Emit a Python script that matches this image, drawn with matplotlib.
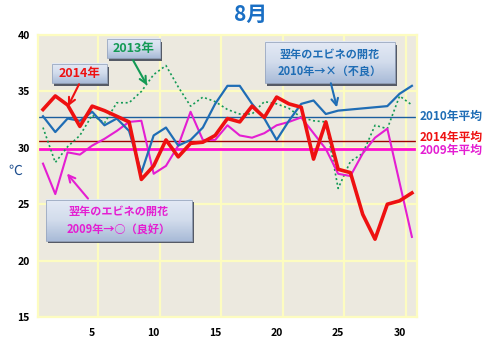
import numpy as np
import matplotlib.pyplot as plt
from matplotlib.patches import Rectangle
from matplotlib.colors import LinearSegmentedColormap

plt.rcParams['font.family'] = ['Noto Sans CJK JP', 'DejaVu Sans']

# 8月の日別最高気温
days = np.arange(1, 32)
t2014 = [33.4, 34.6, 33.8, 31.9, 33.7, 33.3, 32.8, 32.3, 27.2, 28.4, 30.7, 29.2, 30.4, 30.5, 31.1, 32.6,
         32.3, 33.7, 32.7, 34.5, 33.9, 33.6, 29.0, 32.3, 28.1, 27.8, 24.1, 21.9, 25.0, 25.3, 26.0]
t2013 = [31.8, 28.7, 30.1, 31.1, 32.9, 32.2, 34.0, 34.0, 35.0, 36.5, 37.3, 35.4, 33.7, 34.5, 34.1, 33.4,
         33.0, 33.0, 34.1, 33.9, 33.5, 32.7, 32.4, 32.3, 26.4, 28.8, 29.5, 32.0, 31.7, 34.6, 33.8]
t2010 = [32.8, 31.4, 32.6, 32.4, 33.2, 32.0, 32.6, 31.5, 27.8, 31.1, 31.8, 30.2, 30.7, 31.8, 33.9, 35.5,
         35.5, 33.9, 32.6, 30.7, 32.4, 33.9, 34.2, 33.0, 33.3, 33.4, 33.5, 33.6, 33.7, 34.8, 35.5]
t2009 = [28.6, 25.9, 29.6, 29.4, 30.2, 30.8, 31.5, 32.3, 32.4, 27.7, 28.4, 30.2, 33.2, 30.7, 30.7, 32.0,
         31.1, 30.9, 31.3, 32.0, 32.3, 32.7, 31.3, 29.9, 27.7, 27.5, 29.5, 30.9, 31.7, 26.9, 22.1]

# 月平均
avg2010 = 32.7
avg2014 = 30.6
avg2009 = 29.9

blue = '#1f6db5'
red = '#ee1111'
pink = '#e41ed2'
green = '#139a55'

fig = plt.figure(figsize=(5.01, 3.51), dpi=100)
ax = fig.add_axes([0.076, 0.097, 0.756, 0.803])
ax.set_facecolor('#ece9df')

ax.set_xlim(0.6, 31.4)
ax.set_ylim(15, 40)

# grid (yellowish), vertical lines between categories
for x in np.arange(5.5, 31, 5):
    ax.axvline(x, color='#fdfcc0', lw=1.6, zorder=1)
for y in range(15, 41, 5):
    ax.axhline(y, color='#fdfcc0', lw=1.6, zorder=1)
for s in ax.spines.values():
    s.set_color('#fdfcc0')
    s.set_linewidth(1.6)

# average lines
ax.axhline(avg2010, color='#1b5e9e', lw=1.0, zorder=2)
ax.axhline(avg2014, color='#a00000', lw=1.0, zorder=2)
ax.axhline(avg2009, color='#ff10d0', lw=2.0, zorder=2)

ax.plot(days, t2013, color=green, lw=1.2, ls=(0, (1.2, 1.6)), zorder=3)
ax.plot(days, t2009, color=pink, lw=1.5, zorder=3)
ax.plot(days, t2010, color=blue, lw=1.6, zorder=4)
ax.plot(days, t2014, color=red, lw=2.6, zorder=5)

ax.set_xticks([5, 10, 15, 20, 25, 30])
ax.set_yticks([15, 20, 25, 30, 35, 40])
ax.tick_params(length=0, labelsize=7.5, pad=6)
ax.tick_params(axis='x', pad=8)
for lab in ax.get_xticklabels() + ax.get_yticklabels():
    lab.set_fontweight('bold')

fig.text(0.5, 0.96, '8月', color='#1a6fc4', fontsize=15, fontweight='bold', ha='center', va='center')
fig.text(0.03, 0.512, '℃', color='#1f4f8f', fontsize=10, ha='center', va='center')

# right side labels
ax.text(31.6, 32.75, '2010年平均', color=blue, fontsize=8.5, fontweight='bold', va='center', clip_on=False)
ax.text(31.6, 30.95, '2014年平均', color=red, fontsize=8.5, fontweight='bold', va='center', clip_on=False)
ax.text(31.6, 29.75, '2009年平均', color=pink, fontsize=8.5, fontweight='bold', va='center', clip_on=False)

grad = LinearSegmentedColormap.from_list('box', ['#e4eaf5', '#d2dcec', '#a9bbd8'])


def callout(text, box, start, tip, color, size):
    x0, x1, y0, y1 = box
    # shadow
    dx, dy = 0.2, 0.22
    ax.add_patch(Rectangle((x0 + dx, y0 - dy), x1 - x0, y1 - y0, fc='#555a66', ec='none', zorder=9))
    ax.imshow(np.linspace(0, 1, 50).reshape(-1, 1), cmap=grad, extent=(x0, x1, y0, y1),
              aspect='auto', origin='upper', zorder=10)
    ax.add_patch(Rectangle((x0, y0), x1 - x0, y1 - y0, fc='none', ec='#9aa8c0', lw=0.6, zorder=11))
    ax.text((x0 + x1) / 2, (y0 + y1) / 2, text, color=color, fontsize=size, fontweight='bold',
            ha='center', va='center', linespacing=1.45, zorder=12)
    ax.annotate('', xy=tip, xytext=start, zorder=12,
                arrowprops=dict(arrowstyle='->', color=color, lw=1.5, mutation_scale=12,
                                shrinkA=0, shrinkB=0))


callout('2014年', (1.73, 6.2, 35.73, 37.42), (3.93, 35.64), (3.03, 33.68), red, 9)
callout('2013年', (6.2, 10.51, 37.95, 39.64), (8.32, 37.78), (9.46, 35.55), green, 9)
callout('翌年のエビネの開花\n2010年→×（不良）', (19.05, 29.62, 35.73, 39.38), (24.41, 35.73), (24.9, 33.59),
        blue, 8)
callout('翌年のエビネの開花\n2009年→○（良好）', (1.24, 13.11, 21.76, 25.41), (4.66, 25.5), (2.95, 27.72),
        pink, 8)

ax.set_xlim(0.6, 31.4)
ax.set_ylim(15, 40)

plt.savefig('out.png', dpi=100)
